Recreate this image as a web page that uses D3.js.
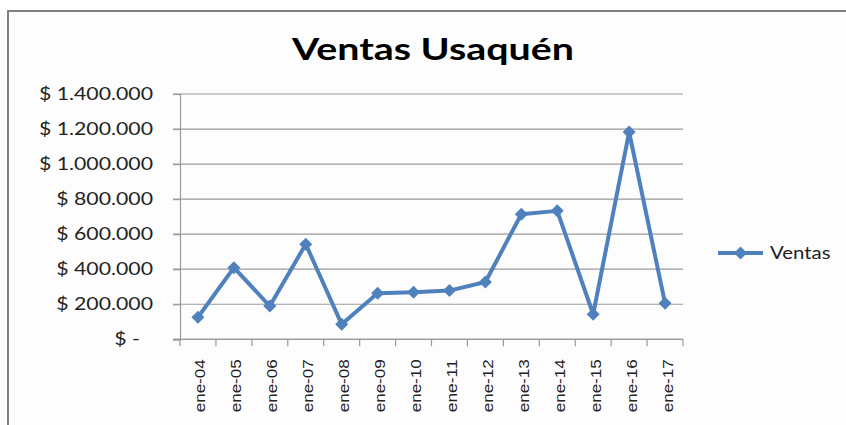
<!DOCTYPE html>
<html>
<head>
<meta charset="utf-8">
<script src="https://cdn.jsdelivr.net/npm/d3@7"></script>
<style>
  body { margin: 0; background: #fff; }
  svg { display: block; }
</style>
</head>
<body>
<div id="chart"></div>
<script>
// data
const categories = ["ene-04", "ene-05", "ene-06", "ene-07", "ene-08", "ene-09", "ene-10",
  "ene-11", "ene-12", "ene-13", "ene-14", "ene-15", "ene-16", "ene-17"];
const ventas = [126000, 409000, 190000, 543000, 86000, 263000, 269000,
  278000, 327000, 714000, 733000, 143000, 1183000, 206000];
const yTicks = [0, 200000, 400000, 600000, 800000, 1000000, 1200000, 1400000];
const seriesName = "Ventas";
const title = "Ventas Usaquén";

const W = 846, H = 425;
const blue = "#4f81bd";
const font = "Lato, 'Open Sans', sans-serif";

const svg = d3.select("#chart").append("svg")
  .attr("width", W)
  .attr("height", H);

// chart frame (only top/left edges visible in the crop)
svg.append("rect")
  .attr("x", 8).attr("y", 11)
  .attr("width", W + 20).attr("height", H + 20)
  .attr("fill", "#fdfdfd")
  .attr("stroke", "#808080")
  .attr("stroke-width", 2);

const plot = { left: 180, right: 683, top: 94, bottom: 339.3 };

const x = d3.scaleBand()
  .domain(categories)
  .range([plot.left, plot.right]);
const y = d3.scaleLinear()
  .domain([0, 1400000])
  .range([plot.bottom, plot.top]);

// title, stretched a bit like the original
svg.append("text")
  .attr("x", 433).attr("y", 60)
  .attr("text-anchor", "middle")
  .attr("font-family", font)
  .attr("font-weight", "bold")
  .attr("font-size", 31)
  .attr("fill", "#000")
  .attr("textLength", 282)
  .attr("lengthAdjust", "spacingAndGlyphs")
  .text(title);

// gridlines
svg.append("g")
  .selectAll("line")
  .data(yTicks)
  .join("line")
  .attr("x1", plot.left - 7)
  .attr("x2", plot.right)
  .attr("y1", (d) => y(d))
  .attr("y2", (d) => y(d))
  .attr("stroke", "#9a9a9a")
  .attr("stroke-width", 1.2);

// y axis
const fmt = (d) => d === 0 ? "$ -" : "$ " + d3.format(",")(d).replace(/,/g, ".");
const yAxis = svg.append("g")
  .attr("transform", `translate(${plot.left},0)`)
  .call(d3.axisLeft(y).tickValues(yTicks).tickFormat(fmt).tickSize(7).tickPadding(20));
yAxis.select(".domain").attr("stroke", "#9a9a9a").attr("stroke-width", 1.2);
yAxis.selectAll(".tick line").attr("stroke", "#9a9a9a").attr("stroke-width", 1.2);
yAxis.selectAll(".tick text")
  .attr("font-family", font)
  .attr("font-size", 17)
  .attr("fill", "#222")
  .attr("dx", (d) => d === 0 ? -13 : 0)
  .each(function () {
    const n = this.getComputedTextLength();
    d3.select(this).attr("textLength", n * 1.25).attr("lengthAdjust", "spacingAndGlyphs");
  });

// x axis: ticks sit on category boundaries
const xAxis = svg.append("g")
  .attr("transform", `translate(0,${plot.bottom})`)
  .call(d3.axisBottom(x).tickSize(0).tickPadding(0));
xAxis.select(".domain").remove();
xAxis.append("line")
  .attr("x1", plot.left - 7).attr("x2", plot.right)
  .attr("stroke", "#9a9a9a").attr("stroke-width", 1.2);
xAxis.selectAll(".bound")
  .data(d3.range(categories.length + 1))
  .join("line")
  .attr("class", "bound")
  .attr("x1", (i) => plot.left + i * x.bandwidth())
  .attr("x2", (i) => plot.left + i * x.bandwidth())
  .attr("y1", 0).attr("y2", 7)
  .attr("stroke", "#9a9a9a").attr("stroke-width", 1.2);
xAxis.selectAll(".tick text")
  .attr("font-family", "'Liberation Sans', Arial, sans-serif")
  .attr("font-size", 15.5)
  .attr("fill", "#222")
  .attr("text-anchor", "end")
  .attr("transform", "translate(7.5,20) rotate(-90)")
  .attr("dy", 0)
  .attr("y", 0)
  .attr("textLength", 53)
  .attr("lengthAdjust", "spacingAndGlyphs");

// series line
const cx = (d, i) => x(categories[i]) + x.bandwidth() / 2;
const line = d3.line()
  .x((d, i) => cx(d, i))
  .y((d) => y(d));

svg.append("path")
  .datum(ventas)
  .attr("d", line)
  .attr("fill", "none")
  .attr("stroke", blue)
  .attr("stroke-width", 4)
  .attr("stroke-linejoin", "round");

const diamond = "M0,-6.5 L6.5,0 L0,6.5 L-6.5,0 Z";
svg.append("g")
  .selectAll("path")
  .data(ventas)
  .join("path")
  .attr("d", diamond)
  .attr("transform", (d, i) => `translate(${cx(d, i)},${y(d)})`)
  .attr("fill", blue);

// legend
const lg = svg.append("g").attr("transform", "translate(718,253)");
lg.append("line")
  .attr("x1", 0).attr("x2", 45)
  .attr("stroke", blue).attr("stroke-width", 4);
lg.append("path")
  .attr("d", diamond)
  .attr("transform", "translate(22.5,0)")
  .attr("fill", blue);
lg.append("text")
  .attr("x", 52).attr("y", 6)
  .attr("font-family", font)
  .attr("font-size", 17)
  .attr("fill", "#222")
  .text(seriesName)
  .each(function () {
    const n = this.getComputedTextLength();
    d3.select(this).attr("textLength", n * 1.2).attr("lengthAdjust", "spacingAndGlyphs");
  });
</script>
</body>
</html>
